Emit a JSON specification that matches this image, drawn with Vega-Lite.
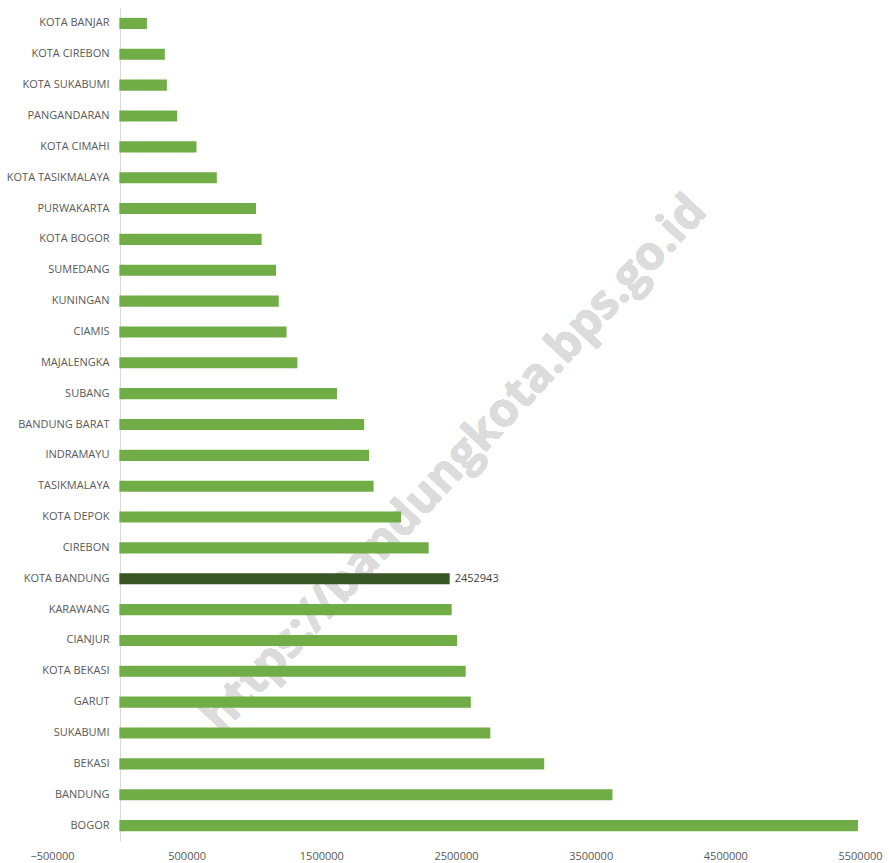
{
  "$schema": "https://vega.github.io/schema/vega-lite/v6.json",
  "width": 808,
  "height": 833,
  "autosize": "none",
  "padding": {"left": 52, "top": 8, "right": 29, "bottom": 22},
  "background": "white",
  "config": {
    "view": {"stroke": null},
    "font": "Open Sans",
    "axis": {"labelFont": "Open Sans", "labelFontSize": 11, "labelColor": "#595959"}
  },
  "data": {
    "values": [
      {"name": "KOTA BANJAR", "value": 205000},
      {"name": "KOTA CIREBON", "value": 338000},
      {"name": "KOTA SUKABUMI", "value": 353000},
      {"name": "PANGANDARAN", "value": 430000},
      {"name": "KOTA CIMAHI", "value": 573000},
      {"name": "KOTA TASIKMALAYA", "value": 724000},
      {"name": "PURWAKARTA", "value": 1015000},
      {"name": "KOTA BOGOR", "value": 1057000},
      {"name": "SUMEDANG", "value": 1164000},
      {"name": "KUNINGAN", "value": 1184000},
      {"name": "CIAMIS", "value": 1242000},
      {"name": "MAJALENGKA", "value": 1322000},
      {"name": "SUBANG", "value": 1616000},
      {"name": "BANDUNG BARAT", "value": 1818000},
      {"name": "INDRAMAYU", "value": 1855000},
      {"name": "TASIKMALAYA", "value": 1888000},
      {"name": "KOTA DEPOK", "value": 2092000},
      {"name": "CIREBON", "value": 2297000},
      {"name": "KOTA BANDUNG", "value": 2452943},
      {"name": "KARAWANG", "value": 2468000},
      {"name": "CIANJUR", "value": 2508000},
      {"name": "KOTA BEKASI", "value": 2572000},
      {"name": "GARUT", "value": 2610000},
      {"name": "SUKABUMI", "value": 2755000},
      {"name": "BEKASI", "value": 3155000},
      {"name": "BANDUNG", "value": 3662000},
      {"name": "BOGOR", "value": 5485000}
    ]
  },
  "encoding": {
    "y": {
      "field": "name",
      "type": "nominal",
      "sort": {"field": "value", "order": "ascending"},
      "scale": {"paddingInner": 0.64, "paddingOuter": 0.32},
      "axis": {
        "title": null,
        "offset": -68,
        "ticks": false,
        "labelPadding": 11,
        "domainColor": "#d9d9d9",
        "domainWidth": 1,
        "grid": false
      }
    },
    "x": {
      "field": "value",
      "type": "quantitative",
      "scale": {"domain": [-500000, 5500000], "nice": false, "zero": false},
      "axis": {
        "title": null,
        "values": [-500000, 500000, 1500000, 2500000, 3500000, 4500000, 5500000],
        "format": "d",
        "labelFlush": false,
        "domain": false,
        "ticks": false,
        "grid": false,
        "labelPadding": 9
      }
    }
  },
  "layer": [
    {
      "mark": {"type": "text", "align": "center", "baseline": "middle", "angle": -47, "dy": 13, "fontSize": 47, "fontWeight": "bold", "font": "Open Sans", "color": "#dcdcdc"},
      "encoding": {
        "x": {"datum": 2420000, "type": "quantitative"},
        "y": {"datum": "INDRAMAYU", "type": "nominal"},
        "text": {"value": "https://bandungkota.bps.go.id"}
      }
    },
    {
      "mark": {"type": "bar"},
      "encoding": {
        "x2": {"datum": 0},
        "color": {
          "condition": {"test": "datum.name === 'KOTA BANDUNG'", "value": "#375623"},
          "value": "#70AD47"
        }
      }
    },
    {
      "transform": [{"filter": "datum.name === 'KOTA BANDUNG'"}],
      "mark": {"type": "text", "align": "left", "baseline": "middle", "dx": 5, "fontSize": 11, "color": "#404040", "font": "Open Sans"},
      "encoding": {
        "text": {"field": "value", "type": "quantitative", "format": "d"}
      }
    }
  ]
}
